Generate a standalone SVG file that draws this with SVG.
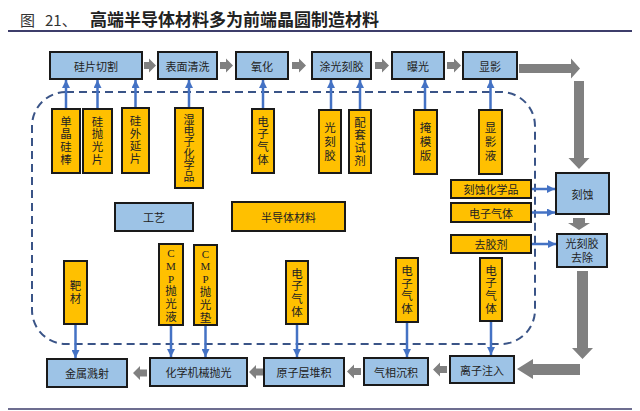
<svg xmlns="http://www.w3.org/2000/svg" width="640" height="411" viewBox="0 0 640 411">
<defs>
<style>
.proc{fill:#9DC3E6;stroke:#1a1a1a;stroke-width:2}
.mat{fill:#FFC000;stroke:#1a1a1a;stroke-width:2}
.t{font-family:"Noto Sans CJK SC","Noto Sans",sans-serif;font-size:11px;fill:#222;text-anchor:middle;dominant-baseline:central}
.v{font-family:"Liberation Sans","Noto Sans CJK SC",sans-serif;font-size:11.5px;fill:#222;text-anchor:middle;dominant-baseline:central}
.s{font-family:"Liberation Serif",serif;font-size:11px}
.ga{fill:#808080}
.ba{stroke:#4472C4;stroke-width:2.5;fill:none;marker-end:url(#bh)}
.dash{fill:none;stroke:#3A5487;stroke-width:2;stroke-dasharray:8 5}
</style>
<marker id="bh" viewBox="0 0 10 10" refX="10" refY="5" markerWidth="8" markerHeight="8" markerUnits="userSpaceOnUse" orient="auto">
<path d="M0,0 L10,5 L0,10 z" fill="#4472C4"/>
</marker>
</defs>
<rect width="640" height="411" fill="#ffffff"/>
<g id="title">
<text x="20" y="26" font-family="'Noto Sans CJK SC',sans-serif" font-size="15" fill="#333">图</text>
<text x="45" y="26" font-family="'Noto Sans CJK SC',sans-serif" font-size="15" fill="#333">21、</text>
<text x="90" y="26" font-family="'Noto Sans CJK SC',sans-serif" font-size="17" font-weight="bold" fill="#222">高端半导体材料多为前端晶圆制造材料</text>
<line x1="8" y1="31" x2="632" y2="31" stroke="#3d3d6b" stroke-width="2"/>
<line x1="8" y1="409" x2="632" y2="409" stroke="#3d3d6b" stroke-width="1.5"/>
</g>
<rect class="dash" x="32" y="92" width="503" height="252" rx="34" ry="34"/>
<g id="connectors">
<path class="ga" d="M144,62 H149 V58.5 L156,65.5 L149,72.5 V69 H144 Z"/>
<path class="ga" d="M220,62 H226 V58.5 L233,65.5 L226,72.5 V69 H220 Z"/>
<path class="ga" d="M292,62 H299 V58.5 L306,65.5 L299,72.5 V69 H292 Z"/>
<path class="ga" d="M375,62 H382 V58.5 L389,65.5 L382,72.5 V69 H375 Z"/>
<path class="ga" d="M447,62 H454 V58.5 L461,65.5 L454,72.5 V69 H447 Z"/>
<path class="ga" d="M519,64 H571 V58.5 L580,68.5 L571,78.5 V73 H519 Z"/>
<path class="ga" d="M574,81 H584 V158 H589.5 L579,169 L568.5,158 H574 Z"/>
<path class="ga" d="M573,218 H585 V223 H590 L579,230 L568,223 H573 Z"/>
<path class="ga" d="M577,271 H588 V348 H593 L582.5,359 L572,348 H577 Z"/>
<path class="ga" d="M580,364 V375 H533 V379 L517,369 L533,359 V364 Z"/>
<path class="ga" d="M447,366 H440 V362.5 L433,369.5 L440,376.5 V373 H447 Z"/>
<path class="ga" d="M361,368 H354 V364.5 L347,371.5 L354,378.5 V375 H361 Z"/>
<path class="ga" d="M263,368.5 H256 V365 L249,372 L256,379 V375.5 H263 Z"/>
<path class="ga" d="M147,369.5 H140 V366 L133,373 L140,380 V376.5 H147 Z"/>
<line class="ba" x1="66" y1="108" x2="66" y2="80"/>
<line class="ba" x1="97.5" y1="108" x2="97.5" y2="80"/>
<line class="ba" x1="135.5" y1="107" x2="135.5" y2="80"/>
<line class="ba" x1="189" y1="107" x2="189" y2="80"/>
<line class="ba" x1="263" y1="108" x2="263" y2="80"/>
<line class="ba" x1="331" y1="109" x2="331" y2="80"/>
<line class="ba" x1="360" y1="109" x2="360" y2="80"/>
<line class="ba" x1="425" y1="109" x2="425" y2="80"/>
<line class="ba" x1="490.5" y1="109" x2="490.5" y2="80"/>
<line class="ba" x1="532" y1="189" x2="555" y2="189"/>
<line class="ba" x1="532" y1="212.5" x2="555" y2="212.5"/>
<line class="ba" x1="532" y1="244" x2="556" y2="244"/>
<line class="ba" x1="75.5" y1="325" x2="75.5" y2="358"/>
<line class="ba" x1="171" y1="326" x2="171" y2="357"/>
<line class="ba" x1="205.5" y1="326" x2="205.5" y2="357"/>
<line class="ba" x1="297" y1="325" x2="297" y2="357"/>
<line class="ba" x1="407" y1="323" x2="407" y2="357"/>
<line class="ba" x1="491" y1="322" x2="491" y2="355"/>
</g>
<g id="n-guipianqiege"><rect class="proc" x="50" y="52" width="92" height="27"/><text class="t" x="96" y="65.5">硅片切割</text></g>
<g id="n-biaomianqingxi"><rect class="proc" x="158" y="52" width="59" height="27"/><text class="t" x="187.5" y="65.5">表面清洗</text></g>
<g id="n-yanghua"><rect class="proc" x="236" y="52" width="52" height="27"/><text class="t" x="262" y="65.5">氧化</text></g>
<g id="n-tuguangkejiao"><rect class="proc" x="312" y="52" width="59" height="27"/><text class="t" x="341.5" y="65.5">涂光刻胶</text></g>
<g id="n-baoguang"><rect class="proc" x="392" y="52" width="52" height="27"/><text class="t" x="418" y="65.5">曝光</text></g>
<g id="n-xianying"><rect class="proc" x="463" y="52" width="54" height="27"/><text class="t" x="490" y="65.5">显影</text></g>
<g id="n-keshi"><rect class="proc" x="556" y="173" width="53" height="41"/><text class="t" x="582.5" y="193.5">刻蚀</text></g>
<g id="n-quchu"><rect class="proc" x="557" y="234" width="50" height="33"/><text class="v" x="582" y="244" style="font-size:11px">光刻胶</text><text class="v" x="582" y="258" style="font-size:11px">去除</text></g>
<g id="n-lizizhuru"><rect class="proc" x="450" y="356" width="64" height="27"/><text class="t" x="482" y="369.5">离子注入</text></g>
<g id="n-qixiangchenji"><rect class="proc" x="364" y="358" width="64" height="27"/><text class="t" x="396" y="371.5">气相沉积</text></g>
<g id="n-yuanziceng"><rect class="proc" x="264" y="358" width="80" height="28"/><text class="t" x="304" y="372">原子层堆积</text></g>
<g id="n-cmp"><rect class="proc" x="150" y="358" width="97" height="28"/><text class="t" x="198.5" y="372">化学机械抛光</text></g>
<g id="n-jinshu"><rect class="proc" x="47" y="359" width="80" height="28"/><text class="t" x="87" y="373">金属溅射</text></g>
<g id="n-gongyi"><rect class="proc" x="115" y="203" width="78" height="28"/><text class="t" x="154" y="217">工艺</text></g>
<g id="n-bandaoti"><rect class="mat" x="232" y="202" width="113" height="29"/><text class="t" x="288.5" y="216.5">半导体材料</text></g>
<g id="m-keshihxp"><rect class="mat" x="451" y="180" width="80" height="18"/><text class="t" x="491" y="189">刻蚀化学品</text></g>
<g id="m-dianziqiti-ke"><rect class="mat" x="451" y="203" width="80" height="19"/><text class="t" x="491" y="212.5">电子气体</text></g>
<g id="m-qujiaoji"><rect class="mat" x="451" y="235" width="80" height="18"/><text class="t" x="491" y="244">去胶剂</text></g>
<g id="m-danjingguibang"><rect class="mat" x="52" y="109" width="28" height="64"/><text class="v" x="66" y="121.5"><tspan x="66">单</tspan><tspan x="66" dy="12.7">晶</tspan><tspan x="66" dy="12.7">硅</tspan><tspan x="66" dy="12.7">棒</tspan></text></g>
<g id="m-guipaoguangpian"><rect class="mat" x="83" y="109" width="29" height="64"/><text class="v" x="97.5" y="121.5"><tspan x="97.5">硅</tspan><tspan x="97.5" dy="12.7">抛</tspan><tspan x="97.5" dy="12.7">光</tspan><tspan x="97.5" dy="12.7">片</tspan></text></g>
<g id="m-guiwaiyanpian"><rect class="mat" x="122" y="108" width="27" height="65"/><text class="v" x="135.5" y="121"><tspan x="135.5">硅</tspan><tspan x="135.5" dy="12.7">外</tspan><tspan x="135.5" dy="12.7">延</tspan><tspan x="135.5" dy="12.7">片</tspan></text></g>
<g id="m-shidianzi"><rect class="mat" x="175" y="108" width="28" height="80"/><text class="v" x="189" y="119.5" style="font-size:11px"><tspan x="189">湿</tspan><tspan x="189" dy="11.4">电</tspan><tspan x="189" dy="11.4">子</tspan><tspan x="189" dy="11.4">化</tspan><tspan x="189" dy="11.4">学</tspan><tspan x="189" dy="11.4">品</tspan></text></g>
<g id="m-dianziqiti-yh"><rect class="mat" x="252" y="109" width="22" height="64"/><text class="v" x="263" y="121.5"><tspan x="263">电</tspan><tspan x="263" dy="12.7">子</tspan><tspan x="263" dy="12.7">气</tspan><tspan x="263" dy="12.7">体</tspan></text></g>
<g id="m-guangkejiao"><rect class="mat" x="319" y="110" width="22" height="63"/><text class="v" x="330" y="127.5"><tspan x="330">光</tspan><tspan x="330" dy="14">刻</tspan><tspan x="330" dy="14">胶</tspan></text></g>
<g id="m-peitaoshiji"><rect class="mat" x="349" y="110" width="22" height="63"/><text class="v" x="360" y="122.5"><tspan x="360">配</tspan><tspan x="360" dy="12.7">套</tspan><tspan x="360" dy="12.7">试</tspan><tspan x="360" dy="12.7">剂</tspan></text></g>
<g id="m-yanmoban"><rect class="mat" x="414" y="110" width="23" height="64"/><text class="v" x="425.5" y="128"><tspan x="425.5">掩</tspan><tspan x="425.5" dy="14">模</tspan><tspan x="425.5" dy="14">版</tspan></text></g>
<g id="m-xianyingye"><rect class="mat" x="479" y="110" width="23" height="64"/><text class="v" x="490.5" y="128"><tspan x="490.5">显</tspan><tspan x="490.5" dy="14">影</tspan><tspan x="490.5" dy="14">液</tspan></text></g>
<g id="m-bacai"><rect class="mat" x="64" y="261" width="23" height="63"/><text class="v" x="75.5" y="286"><tspan x="75.5">靶</tspan><tspan x="75.5" dy="13">材</tspan></text></g>
<g id="m-cmpye"><rect class="mat" x="159" y="244" width="24" height="81"/><text class="v" x="171" y="253"><tspan x="171" class="s">C</tspan><tspan x="171" dy="12.8" class="s">M</tspan><tspan x="171" dy="12.8" class="s">P</tspan><tspan x="171" dy="12.8">抛</tspan><tspan x="171" dy="12.8">光</tspan><tspan x="171" dy="12.8">液</tspan></text></g>
<g id="m-cmpdian"><rect class="mat" x="194" y="245" width="23" height="80"/><text class="v" x="205.5" y="253.5"><tspan x="205.5" class="s">C</tspan><tspan x="205.5" dy="12.8" class="s">M</tspan><tspan x="205.5" dy="12.8" class="s">P</tspan><tspan x="205.5" dy="12.8">抛</tspan><tspan x="205.5" dy="12.8">光</tspan><tspan x="205.5" dy="12.8">垫</tspan></text></g>
<g id="m-dianziqiti-ald"><rect class="mat" x="286" y="261" width="22" height="63"/><text class="v" x="297" y="273.5"><tspan x="297">电</tspan><tspan x="297" dy="12.7">子</tspan><tspan x="297" dy="12.7">气</tspan><tspan x="297" dy="12.7">体</tspan></text></g>
<g id="m-dianziqiti-cvd"><rect class="mat" x="396" y="258" width="22" height="64"/><text class="v" x="407" y="271"><tspan x="407">电</tspan><tspan x="407" dy="12.7">子</tspan><tspan x="407" dy="12.7">气</tspan><tspan x="407" dy="12.7">体</tspan></text></g>
<g id="m-dianziqiti-ion"><rect class="mat" x="480" y="258" width="22" height="63"/><text class="v" x="491" y="270.5"><tspan x="491">电</tspan><tspan x="491" dy="12.7">子</tspan><tspan x="491" dy="12.7">气</tspan><tspan x="491" dy="12.7">体</tspan></text></g>
</svg>
